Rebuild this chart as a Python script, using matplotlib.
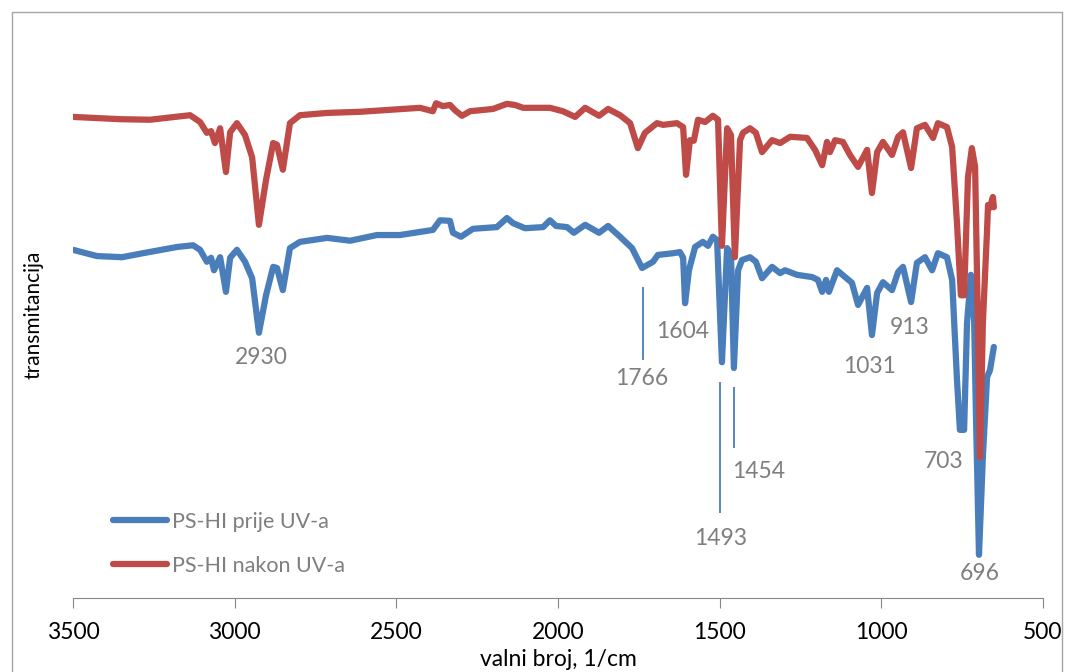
import matplotlib
matplotlib.use("Agg")
import matplotlib.pyplot as plt
from matplotlib.patches import Rectangle

plt.rcParams['font.family'] = ['Lato', 'DejaVu Sans']

# FTIR spectra (wavenumber in 1/cm, transmittance in arbitrary units)
wn_before = [3500, 3426, 3348, 3284, 3178, 3129, 3107, 3086, 3073, 3064, 3045, 3027, 3014,
             2993, 2968, 2946, 2925, 2903, 2881, 2869, 2851, 2829, 2798, 2714, 2643, 2560,
             2489, 2387, 2365, 2334, 2325, 2300, 2263, 2189, 2158, 2139, 2102, 2046, 2025,
             2006, 1972, 1951, 1916, 1873, 1845, 1808, 1771, 1740, 1706, 1691, 1644, 1623,
             1613, 1607, 1595, 1576, 1552, 1536, 1521, 1508, 1493, 1477, 1465, 1456, 1443,
             1431, 1406, 1388, 1369, 1338, 1313, 1298, 1261, 1214, 1196, 1183, 1171, 1162,
             1137, 1091, 1072, 1044, 1029, 1013, 995, 967, 948, 933, 908, 890, 865, 843, 825,
             797, 781, 766, 757, 744, 735, 723, 713, 707, 698, 686, 673, 664, 652]
t_before = [61.3, 60.2, 60.0, 60.7, 61.8, 62.1, 61.3, 59.2, 59.9, 57.7, 60.0, 53.9, 59.9,
            61.3, 59.2, 56.3, 46.7, 53.3, 58.3, 58.1, 54.2, 61.6, 62.7, 63.4, 62.9, 63.9,
            63.9, 64.8, 66.5, 66.4, 64.3, 63.6, 65.0, 65.3, 66.9, 66.0, 65.1, 65.3, 66.5,
            65.5, 65.3, 64.3, 65.7, 64.3, 65.5, 63.6, 61.6, 58.1, 59.2, 60.4, 60.7, 60.9,
            59.9, 51.9, 57.7, 61.8, 62.7, 62.0, 63.6, 63.0, 41.5, 61.6, 60.4, 40.5, 57.7,
            59.5, 60.0, 59.2, 56.3, 58.3, 57.2, 57.7, 56.9, 56.5, 56.0, 53.9, 56.0, 53.9,
            57.7, 55.5, 51.6, 54.6, 46.3, 53.7, 55.6, 54.2, 57.4, 58.3, 52.1, 59.0, 60.0, 57.7, 60.7,
            60.0, 56.0, 38.4, 29.6, 29.6, 48.4, 56.9, 48.9, 31.3, 7.6, 24.8, 38.9, 40.1, 44.2]

wn_after = [3500, 3355, 3262, 3138, 3107, 3086, 3073, 3061, 3045, 3027, 3014, 2993, 2968,
            2946, 2925, 2903, 2881, 2869, 2851, 2829, 2798, 2714, 2612, 2427, 2387, 2377,
            2356, 2334, 2319, 2297, 2272, 2201, 2158, 2133, 2108, 2025, 1985, 1947, 1916,
            1873, 1845, 1808, 1777, 1753, 1731, 1694, 1675, 1632, 1613, 1604, 1592, 1580,
            1567, 1545, 1521, 1505, 1493, 1477, 1465, 1453, 1437, 1428, 1406, 1388, 1369,
            1338, 1313, 1282, 1230, 1205, 1183, 1168, 1159, 1143, 1119, 1097, 1072, 1044,
            1029, 1013, 995, 967, 948, 933, 908, 890, 865, 840, 825, 797, 781, 766, 754, 744,
            732, 720, 710, 701, 695, 686, 673, 670, 664, 655, 652]
t_after = [84.7, 84.3, 84.2, 85.0, 83.8, 81.9, 82.2, 80.1, 82.7, 75.0, 82.0, 83.6, 81.5,
           77.6, 65.7, 73.6, 80.1, 79.8, 75.4, 83.6, 85.0, 85.4, 85.6, 86.3, 85.7, 87.1,
           86.6, 86.8, 85.9, 84.9, 85.7, 86.1, 87.0, 86.8, 86.3, 86.3, 85.7, 84.7, 86.3,
           84.9, 86.1, 85.0, 83.6, 79.2, 81.9, 83.6, 83.3, 83.6, 82.9, 74.5, 80.6, 80.5,
           84.2, 83.8, 84.9, 84.2, 62.0, 82.7, 81.5, 60.0, 80.6, 81.9, 82.7, 81.9, 78.5,
           80.6, 80.1, 81.2, 81.0, 78.9, 76.2, 80.3, 78.5, 80.6, 80.3, 78.0, 75.9, 78.9,
           71.3, 78.5, 80.3, 78.0, 81.2, 82.0, 75.7, 82.7, 83.3, 81.0, 83.6, 82.9, 79.4, 66.0, 53.3, 53.3,
           74.1, 79.2, 75.9, 47.2, 24.8, 48.4, 64.8, 69.2, 68.7, 70.6, 68.8]

# peak labels (text, wavenumber, transmittance)
peak_text = ["2930", "1766", "1604", "1493", "1454", "1031", "913", "703", "696"]
peak_wn = [2919, 1740, 1616, 1496, 1381, 1035, 911, 806, 695]
peak_t = [42.3, 38.6, 47.0, 10.4, 22.2, 40.8, 47.7, 24.1, 4.4]

# marker lines below some peaks
mark_wn = [1737, 1499, 1456]
mark_top = [54.8, 38.0, 37.1]
mark_bot = [41.9, 15.0, 26.4]

BLUE = "#4a7ebb"
RED = "#be4b48"
GRAY = "#7f7f7f"

W, H = 1076, 672
fig = plt.figure(figsize=(W / 100, H / 100), dpi=100)
fig.patches.append(Rectangle((12 / W, -0.1), (1062 - 12) / W, 1.1 - 12 / H,
                             transform=fig.transFigure, fill=False,
                             edgecolor="#a6a6a6", lw=1))

ax = fig.add_axes([73 / W, (H - 598) / H, 970 / W, 568 / H])
ax.plot(wn_before, t_before, color=BLUE, lw=4.5, solid_capstyle="round",
        solid_joinstyle="round", label="PS-HI prije UV-a")
ax.plot(wn_after, t_after, color=RED, lw=4.5, solid_capstyle="round",
        solid_joinstyle="round", label="PS-HI nakon UV-a")

ax.vlines(mark_wn, mark_bot, mark_top, color=BLUE, lw=1.3)
for s, x, y in zip(peak_text, peak_wn, peak_t):
    ax.text(x, y, s, color=GRAY, fontsize=16.5, ha="center", va="center")

ax.set_xlim(3500, 500)
ax.set_ylim(0, 100)
ax.set_xticks([3500, 3000, 2500, 2000, 1500, 1000, 500])
ax.set_yticks([])
for side in ["left", "right", "top"]:
    ax.spines[side].set_visible(False)
ax.spines["bottom"].set_color("#868686")
ax.tick_params(axis="x", direction="out", length=7, color="#868686",
               labelsize=16.5, labelcolor="black", pad=10)

fig.text(558 / W, 1 - 660 / H, "valni broj, 1/cm", ha="center", va="center", fontsize=16.5)
fig.text(33 / W, 1 - 315 / H, "transmitancija", ha="center", va="center",
         rotation=90, fontsize=15)

leg = ax.legend(loc="upper left", bbox_to_anchor=(113 / W, 1 - 512 / H),
                bbox_transform=fig.transFigure, frameon=False, fontsize=15.5,
                handlelength=2.5, handletextpad=0.25, labelspacing=1.1,
                borderpad=0, borderaxespad=0)
for t in leg.get_texts():
    t.set_color(GRAY)

fig.savefig("out.png", dpi=100)
